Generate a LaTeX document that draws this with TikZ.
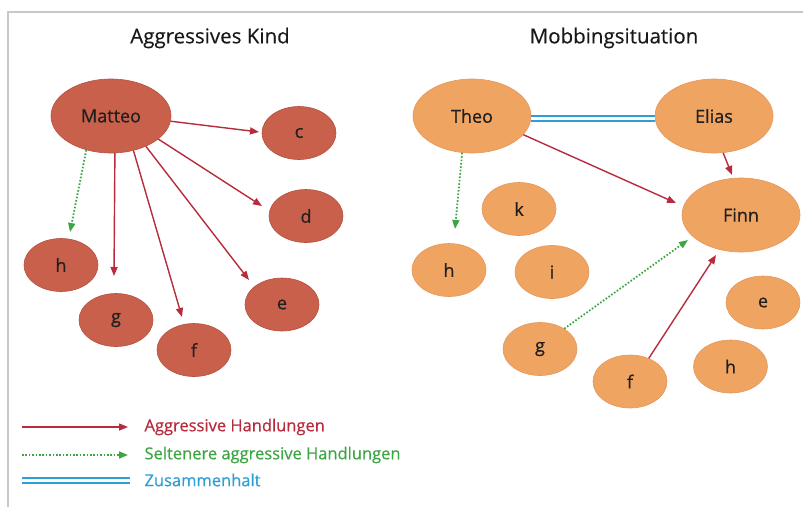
\documentclass[tikz,border=0pt]{standalone}
\usepackage{fontspec}
\setmainfont{Open Sans}[FakeBold=0.3]
\newfontfamily\medfont{Open Sans}[FakeBold=0.6]
\usetikzlibrary{shapes.geometric,arrows.meta}
\definecolor{brick}{HTML}{C9604B}
\definecolor{brickline}{HTML}{B4503E}
\definecolor{orng}{HTML}{F0A462}
\definecolor{orngline}{HTML}{E6965A}
\definecolor{aggred}{HTML}{B82B3C}
\definecolor{selgreen}{HTML}{3DA644}
\definecolor{zblue}{HTML}{2E9FD6}
\definecolor{framec}{HTML}{C8C8C8}
\begin{document}
\begin{tikzpicture}[x=1pt,y=-1pt,
  lbl/.style={font=\medfont\fontsize{18}{18}\selectfont, text=black!88},
  kid/.style={ellipse, draw=brickline, fill=brick, line width=0.6pt, minimum width=74pt, minimum height=53pt, inner sep=0pt, lbl},
  bigkid/.style={kid, minimum width=120pt, minimum height=74pt},
  okid/.style={ellipse, draw=orngline, fill=orng, line width=0.6pt, minimum width=74pt, minimum height=53pt, inner sep=0pt, lbl},
  obigkid/.style={okid, minimum width=118pt, minimum height=74pt},
  agg/.style={draw=aggred, line width=1.4pt, -{Triangle[length=9pt,width=7pt]}},
  sel/.style={draw=selgreen, line width=1.8pt, dash pattern=on 1.6pt off 1.8pt, -{Triangle[length=9pt,width=7pt]}},
  zus/.style={draw=zblue, line width=2pt, double=white, double distance=3pt},
  title/.style={font=\fontsize{20.5}{21}\selectfont, text=black!90},
  legtext/.style={anchor=west, font=\medfont\fontsize{16.5}{17}\selectfont}]
\useasboundingbox (0,0) rectangle (803,507);
\draw[framec, line width=1.5pt] (803,12) -- (8,12) -- (8,507);

% titles
\node[title] (t1) at (210,38) {Aggressives Kind};
\node[title] (t2) at (614,38) {Mobbingsituation};

% left group
\node[bigkid] (matteo) at (111,116) {Matteo};
\node[kid] (lc) at (299,133) {c};
\node[kid] (ld) at (306,216) {d};
\node[kid] (lh) at (61,265) {h};
\node[kid] (lg) at (116,320) {g};
\node[kid] (lf) at (194,350) {f};
\node[kid] (le) at (282,304.5) {e};

\coordinate (tc) at (259,132);
\coordinate (td) at (262,206);
\coordinate (te) at (249,280);
\coordinate (tf) at (182,317);
\coordinate (tg) at (114,276);
\coordinate (th) at (70,232);

\draw[agg] (matteo.-5) -- (tc);
\draw[agg] (matteo.-26) -- (td);
\draw[agg] (matteo.-41) -- (te);
\draw[agg] (matteo.-57) -- (tf);
\draw[agg] (matteo.-84) -- (tg);
\draw[sel] (matteo.-126) -- (th);

% right group
\node[obigkid] (theo) at (472,116) {Theo};
\node[obigkid] (elias) at (714,116) {Elias};
\node[obigkid] (finn) at (741,215) {Finn};
\node[okid] (rk) at (519,209) {k};
\node[okid] (rh) at (449,270) {h};
\node[okid] (ri) at (552,272) {i};
\node[okid] (re) at (763,302.5) {e};
\node[okid] (rg) at (540,349) {g};
\node[okid] (rf) at (630,381.5) {f};
\node[okid] (rh2) at (730.5,366.5) {h};

\coordinate (tfinn1) at (676,203);
\coordinate (tfinn2) at (732,175);
\coordinate (tfinn3) at (688,240);
\coordinate (tfinn4) at (716,255);
\coordinate (trh) at (455,229);

\draw[zus] ([yshift=-2.5pt]theo.east) -- ([yshift=-2.5pt]elias.west);
\draw[agg] (theo.-20) -- (tfinn1);
\draw[agg] (elias.-76) -- (tfinn2);
\draw[sel] (theo.-105) -- (trh);
\draw[sel] (rg.40) -- (tfinn3);
\draw[agg] (rf.51) -- (tfinn4);

% legend
\coordinate (la1) at (22,427); \coordinate (lb1) at (128,427);
\coordinate (la2) at (22,455); \coordinate (lb2) at (128,455);
\coordinate (la3) at (22,480); \coordinate (lb3) at (130,480);
\draw[agg] (la1) -- (lb1);
\draw[sel] (la2) -- (lb2);
\draw[zus] (la3) -- (lb3);
\node[legtext, text=aggred] (leg1) at (141,427) {Aggressive Handlungen};
\node[legtext, text=selgreen] (leg2) at (141,455) {Seltenere aggressive Handlungen};
\node[legtext, text=zblue] (leg3) at (141,480) {Zusammenhalt};
\end{tikzpicture}
\end{document}
